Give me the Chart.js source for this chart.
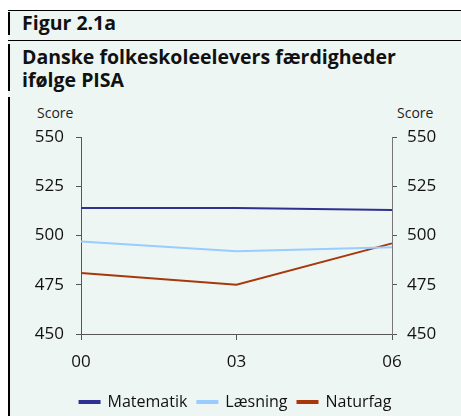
<!DOCTYPE html>
<html>
<head>
<meta charset="utf-8">
<script src="https://cdn.jsdelivr.net/npm/chart.js@4.4.1/dist/chart.umd.min.js"></script>
<style>
  body { margin: 0; background: #fff; font-family: "Open Sans", sans-serif; }
  .wrap { position: relative; width: 461px; height: 416px; overflow: hidden; }
  .panel { position: absolute; left: 8px; top: 11px; width: 453px; height: 405px; background: #eef6f3; }
  .hline { position: absolute; left: 8px; width: 453px; height: 1px; background: #000; }
  .vbar { position: absolute; left: 8px; width: 2px; background: #000; }
  .head { position: absolute; left: 22px; font-weight: bold; font-size: 19.5px; color: #111; line-height: 23px; }
  .score { position: absolute; top: 103px; font-size: 14px; color: #222; }
  #box { position: absolute; left: 10px; top: 97px; width: 451px; height: 323px; }
</style>
</head>
<body>
<div class="wrap">
  <div class="panel"></div>
  <div class="hline" style="top:10px"></div>
  <div class="hline" style="top:40px"></div>
  <div class="vbar" style="top:12px;height:23px"></div>
  <div class="vbar" style="top:44px;height:47px"></div>
  <div class="vbar" style="top:97px;height:319px"></div>
  <div class="head" style="top:11px">Figur 2.1a</div>
  <div class="head" style="top:45px">Danske folkeskoleelevers færdigheder<br>ifølge PISA</div>
  <div class="score" style="left:37px">Score</div>
  <div class="score" style="left:397px">Score</div>
  <div id="box"><canvas id="pisa"></canvas></div>
</div>
<script>
const years = ["00", "03", "06"];
const matematik = [514, 514, 513];
const laesning = [497, 492, 494];
const naturfag = [481, 475, 496];

const ctx = document.getElementById("pisa");

const axisColor = "#555";
const tickFont = { family: "Open Sans", size: 17 };

new Chart(ctx, {
  type: "line",
  data: {
    labels: years,
    datasets: [
      { label: "Matematik", data: matematik, borderColor: "#2e3192", backgroundColor: "#2e3192" },
      { label: "Læsning", data: laesning, borderColor: "#99ccff", backgroundColor: "#99ccff" },
      { label: "Naturfag", data: naturfag, borderColor: "#a8380c", backgroundColor: "#a8380c" },
    ],
  },
  options: {
    animation: false,
    responsive: true,
    maintainAspectRatio: false,
    elements: {
      point: { radius: 0 },
      line: { borderWidth: 2, tension: 0 },
    },
    layout: { padding: { top: 40, left: 0, right: 0, bottom: 0 } },
    scales: {
      x: {
        offset: false,
        grid: { drawOnChartArea: false, drawTicks: true, tickLength: 6, color: axisColor },
        border: { display: true, color: axisColor },
        ticks: { color: "#111", font: tickFont, padding: 12 },
        afterFit: (s) => { s.height = 50; },
      },
      y: {
        position: "left",
        min: 450,
        max: 550,
        grid: { drawOnChartArea: false, drawTicks: true, tickLength: 5, color: axisColor },
        border: { display: true, color: axisColor },
        ticks: { stepSize: 25, color: "#111", font: tickFont, padding: 12 },
        afterFit: (s) => { s.width = 71; },
      },
      y2: {
        position: "right",
        min: 450,
        max: 550,
        grid: { drawOnChartArea: false, drawTicks: true, tickLength: 5, color: axisColor },
        border: { display: true, color: "#777" },
        ticks: { stepSize: 25, color: "#111", font: tickFont, padding: 10 },
        afterFit: (s) => { s.width = 69; },
      },
    },
    plugins: {
      legend: {
        position: "bottom",
        labels: { boxWidth: 20, boxHeight: 2, color: "#111", font: { family: "Open Sans", size: 16 }, padding: 10 },
      },
      tooltip: { enabled: false },
    },
  },
});
</script>
</body>
</html>
